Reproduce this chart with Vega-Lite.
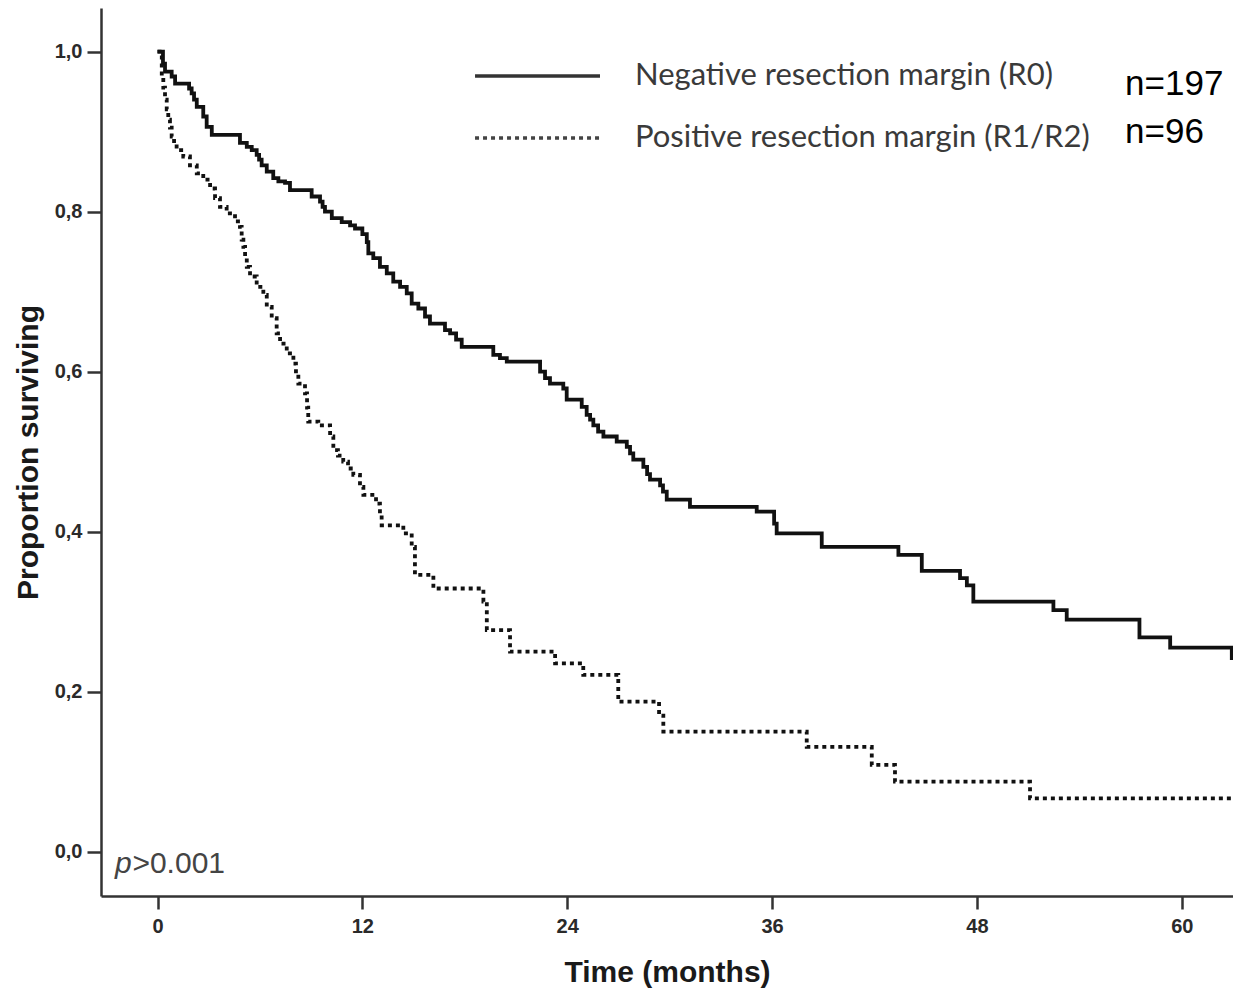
{
  "$schema": "https://vega.github.io/schema/vega-lite/v6.json",
  "width": 1132,
  "height": 888,
  "autosize": {"type": "none"},
  "padding": {"left": 101, "top": 8, "right": 0, "bottom": 97},
  "background": "white",
  "config": {"view": {"stroke": null}, "font": "Liberation Sans"},
  "datasets": {
    "km": [
      {"group": "R0", "month": 0, "surv": 1.0},
      {"group": "R0", "month": 0.32, "surv": 0.985},
      {"group": "R0", "month": 0.44, "surv": 0.975},
      {"group": "R0", "month": 0.83, "surv": 0.969},
      {"group": "R0", "month": 1.03, "surv": 0.96},
      {"group": "R0", "month": 1.85, "surv": 0.954},
      {"group": "R0", "month": 2.0, "surv": 0.948},
      {"group": "R0", "month": 2.14, "surv": 0.94},
      {"group": "R0", "month": 2.3, "surv": 0.931},
      {"group": "R0", "month": 2.68, "surv": 0.919},
      {"group": "R0", "month": 2.88, "surv": 0.906},
      {"group": "R0", "month": 3.18, "surv": 0.896},
      {"group": "R0", "month": 4.83, "surv": 0.886},
      {"group": "R0", "month": 5.23, "surv": 0.881},
      {"group": "R0", "month": 5.52, "surv": 0.877},
      {"group": "R0", "month": 5.81, "surv": 0.871},
      {"group": "R0", "month": 5.95, "surv": 0.865},
      {"group": "R0", "month": 6.1, "surv": 0.858},
      {"group": "R0", "month": 6.4, "surv": 0.85},
      {"group": "R0", "month": 6.78, "surv": 0.842},
      {"group": "R0", "month": 7.08, "surv": 0.838},
      {"group": "R0", "month": 7.47, "surv": 0.836},
      {"group": "R0", "month": 7.76, "surv": 0.827},
      {"group": "R0", "month": 9.03, "surv": 0.819},
      {"group": "R0", "month": 9.52, "surv": 0.8125},
      {"group": "R0", "month": 9.67, "surv": 0.806},
      {"group": "R0", "month": 9.81, "surv": 0.8},
      {"group": "R0", "month": 10.21, "surv": 0.792},
      {"group": "R0", "month": 10.79, "surv": 0.787},
      {"group": "R0", "month": 11.28, "surv": 0.783},
      {"group": "R0", "month": 11.57, "surv": 0.779},
      {"group": "R0", "month": 12.0, "surv": 0.772},
      {"group": "R0", "month": 12.26, "surv": 0.762},
      {"group": "R0", "month": 12.35, "surv": 0.748},
      {"group": "R0", "month": 12.64, "surv": 0.742},
      {"group": "R0", "month": 13.03, "surv": 0.731},
      {"group": "R0", "month": 13.43, "surv": 0.723},
      {"group": "R0", "month": 13.81, "surv": 0.7125},
      {"group": "R0", "month": 14.21, "surv": 0.706},
      {"group": "R0", "month": 14.6, "surv": 0.698},
      {"group": "R0", "month": 14.89, "surv": 0.685},
      {"group": "R0", "month": 15.28, "surv": 0.679},
      {"group": "R0", "month": 15.67, "surv": 0.669},
      {"group": "R0", "month": 15.96, "surv": 0.66},
      {"group": "R0", "month": 16.84, "surv": 0.652},
      {"group": "R0", "month": 17.14, "surv": 0.648},
      {"group": "R0", "month": 17.49, "surv": 0.64},
      {"group": "R0", "month": 17.82, "surv": 0.631},
      {"group": "R0", "month": 19.67, "surv": 0.621},
      {"group": "R0", "month": 20.06, "surv": 0.617},
      {"group": "R0", "month": 20.46, "surv": 0.6125},
      {"group": "R0", "month": 22.41, "surv": 0.6},
      {"group": "R0", "month": 22.7, "surv": 0.592},
      {"group": "R0", "month": 22.99, "surv": 0.585},
      {"group": "R0", "month": 23.77, "surv": 0.579},
      {"group": "R0", "month": 23.97, "surv": 0.565},
      {"group": "R0", "month": 24.85, "surv": 0.556},
      {"group": "R0", "month": 25.14, "surv": 0.546},
      {"group": "R0", "month": 25.34, "surv": 0.54},
      {"group": "R0", "month": 25.53, "surv": 0.533},
      {"group": "R0", "month": 25.81, "surv": 0.525},
      {"group": "R0", "month": 26.12, "surv": 0.519},
      {"group": "R0", "month": 26.9, "surv": 0.5125},
      {"group": "R0", "month": 27.49, "surv": 0.506},
      {"group": "R0", "month": 27.68, "surv": 0.498},
      {"group": "R0", "month": 27.87, "surv": 0.49},
      {"group": "R0", "month": 28.46, "surv": 0.481},
      {"group": "R0", "month": 28.68, "surv": 0.472},
      {"group": "R0", "month": 28.85, "surv": 0.465},
      {"group": "R0", "month": 29.44, "surv": 0.458},
      {"group": "R0", "month": 29.61, "surv": 0.45},
      {"group": "R0", "month": 29.83, "surv": 0.44},
      {"group": "R0", "month": 31.19, "surv": 0.431},
      {"group": "R0", "month": 35.1, "surv": 0.425},
      {"group": "R0", "month": 36.12, "surv": 0.41},
      {"group": "R0", "month": 36.27, "surv": 0.398},
      {"group": "R0", "month": 38.91, "surv": 0.381},
      {"group": "R0", "month": 43.4, "surv": 0.371},
      {"group": "R0", "month": 44.77, "surv": 0.351},
      {"group": "R0", "month": 47.01, "surv": 0.342},
      {"group": "R0", "month": 47.41, "surv": 0.333},
      {"group": "R0", "month": 47.79, "surv": 0.3125},
      {"group": "R0", "month": 52.48, "surv": 0.302},
      {"group": "R0", "month": 53.26, "surv": 0.29},
      {"group": "R0", "month": 57.52, "surv": 0.268},
      {"group": "R0", "month": 59.32, "surv": 0.255},
      {"group": "R0", "month": 62.93, "surv": 0.242},
      {"group": "R0", "month": 63.5, "surv": 0.242},
      {"group": "R1/R2", "month": 0, "surv": 1.0},
      {"group": "R1/R2", "month": 0.25, "surv": 0.969},
      {"group": "R1/R2", "month": 0.34, "surv": 0.955},
      {"group": "R1/R2", "month": 0.44, "surv": 0.94},
      {"group": "R1/R2", "month": 0.54, "surv": 0.928},
      {"group": "R1/R2", "month": 0.63, "surv": 0.915},
      {"group": "R1/R2", "month": 0.73, "surv": 0.905},
      {"group": "R1/R2", "month": 0.83, "surv": 0.894},
      {"group": "R1/R2", "month": 0.97, "surv": 0.885},
      {"group": "R1/R2", "month": 1.12, "surv": 0.877},
      {"group": "R1/R2", "month": 1.51, "surv": 0.869},
      {"group": "R1/R2", "month": 1.9, "surv": 0.858},
      {"group": "R1/R2", "month": 2.3, "surv": 0.848},
      {"group": "R1/R2", "month": 2.68, "surv": 0.84},
      {"group": "R1/R2", "month": 3.08, "surv": 0.829},
      {"group": "R1/R2", "month": 3.37, "surv": 0.817},
      {"group": "R1/R2", "month": 3.66, "surv": 0.806},
      {"group": "R1/R2", "month": 4.05, "surv": 0.798},
      {"group": "R1/R2", "month": 4.54, "surv": 0.788},
      {"group": "R1/R2", "month": 4.83, "surv": 0.781},
      {"group": "R1/R2", "month": 4.93, "surv": 0.765},
      {"group": "R1/R2", "month": 5.03, "surv": 0.756},
      {"group": "R1/R2", "month": 5.13, "surv": 0.743},
      {"group": "R1/R2", "month": 5.23, "surv": 0.731},
      {"group": "R1/R2", "month": 5.42, "surv": 0.719},
      {"group": "R1/R2", "month": 5.81, "surv": 0.706},
      {"group": "R1/R2", "month": 6.2, "surv": 0.696},
      {"group": "R1/R2", "month": 6.4, "surv": 0.681},
      {"group": "R1/R2", "month": 6.69, "surv": 0.667},
      {"group": "R1/R2", "month": 6.98, "surv": 0.648},
      {"group": "R1/R2", "month": 7.18, "surv": 0.635},
      {"group": "R1/R2", "month": 7.57, "surv": 0.623},
      {"group": "R1/R2", "month": 7.96, "surv": 0.61},
      {"group": "R1/R2", "month": 8.11, "surv": 0.597},
      {"group": "R1/R2", "month": 8.25, "surv": 0.585},
      {"group": "R1/R2", "month": 8.64, "surv": 0.573},
      {"group": "R1/R2", "month": 8.76, "surv": 0.555},
      {"group": "R1/R2", "month": 8.83, "surv": 0.5375},
      {"group": "R1/R2", "month": 9.42, "surv": 0.533},
      {"group": "R1/R2", "month": 10.11, "surv": 0.519},
      {"group": "R1/R2", "month": 10.3, "surv": 0.502},
      {"group": "R1/R2", "month": 10.57, "surv": 0.495},
      {"group": "R1/R2", "month": 10.88, "surv": 0.4875},
      {"group": "R1/R2", "month": 11.16, "surv": 0.479},
      {"group": "R1/R2", "month": 11.47, "surv": 0.471},
      {"group": "R1/R2", "month": 11.86, "surv": 0.456},
      {"group": "R1/R2", "month": 12.06, "surv": 0.446},
      {"group": "R1/R2", "month": 12.8, "surv": 0.435},
      {"group": "R1/R2", "month": 13.03, "surv": 0.423},
      {"group": "R1/R2", "month": 13.13, "surv": 0.408},
      {"group": "R1/R2", "month": 14.4, "surv": 0.398},
      {"group": "R1/R2", "month": 14.89, "surv": 0.381},
      {"group": "R1/R2", "month": 15.08, "surv": 0.346},
      {"group": "R1/R2", "month": 16.16, "surv": 0.329},
      {"group": "R1/R2", "month": 19.09, "surv": 0.3125},
      {"group": "R1/R2", "month": 19.29, "surv": 0.277},
      {"group": "R1/R2", "month": 20.65, "surv": 0.25},
      {"group": "R1/R2", "month": 23.29, "surv": 0.2355},
      {"group": "R1/R2", "month": 24.94, "surv": 0.221},
      {"group": "R1/R2", "month": 26.99, "surv": 0.1875},
      {"group": "R1/R2", "month": 29.38, "surv": 0.17},
      {"group": "R1/R2", "month": 29.63, "surv": 0.15},
      {"group": "R1/R2", "month": 38.03, "surv": 0.131},
      {"group": "R1/R2", "month": 41.84, "surv": 0.1085},
      {"group": "R1/R2", "month": 43.2, "surv": 0.0875},
      {"group": "R1/R2", "month": 51.11, "surv": 0.0667},
      {"group": "R1/R2", "month": 63.5, "surv": 0.0667}
    ]
  },
  "layer": [
    {
      "data": {"name": "km"},
      "mark": {"type": "line", "interpolate": "step-after", "clip": true, "strokeWidth": 3.8, "color": "#111111", "strokeCap": "butt"},
      "encoding": {
        "x": {
          "field": "month", "type": "quantitative",
          "scale": {"domain": [-3.31, 63.0], "nice": false, "zero": false},
          "axis": {
            "values": [0, 12, 24, 36, 48, 60],
            "grid": false,
            "domainColor": "#333333", "domainWidth": 2.5,
            "tickColor": "#333333", "tickWidth": 2.5, "tickSize": 13,
            "labelFont": "Liberation Sans", "labelFontSize": 20, "labelFontWeight": "bold", "labelColor": "#2a2a2a", "labelPadding": 7,
            "title": "Time (months)", "titleFont": "Liberation Sans", "titleFontSize": 30, "titleFontWeight": "bold", "titleColor": "#1a1a1a", "titlePadding": 21
          }
        },
        "y": {
          "field": "surv", "type": "quantitative",
          "scale": {"domain": [-0.0554, 1.0546], "nice": false, "zero": false},
          "axis": {
            "values": [0, 0.2, 0.4, 0.6, 0.8, 1.0],
            "labelExpr": "replace(format(datum.value, '.1f'), '.', ',')",
            "grid": false,
            "domainColor": "#333333", "domainWidth": 2.5,
            "tickColor": "#333333", "tickWidth": 2.5, "tickSize": 14,
            "labelFont": "Liberation Sans", "labelFontSize": 20, "labelFontWeight": "bold", "labelColor": "#2a2a2a", "labelPadding": 5,
            "title": "Proportion surviving", "titleFont": "Liberation Sans", "titleFontSize": 30, "titleFontWeight": "bold", "titleColor": "#1a1a1a", "titlePadding": 11
          }
        },
        "detail": {"field": "group", "type": "nominal"},
        "strokeDash": {"field": "group", "type": "nominal", "scale": {"domain": ["R0", "R1/R2"], "range": [[1, 0], [4, 4]]}, "legend": null}
      }
    },
    {
      "data": {"values": [{"label": "solid"}]},
      "mark": {"type": "rule", "strokeWidth": 3.5, "color": "#333333"},
      "encoding": {"x": {"datum": 18.6}, "x2": {"datum": 25.92}, "y": {"datum": 0.9696}}
    },
    {
      "data": {"values": [{"label": "dotted"}]},
      "mark": {"type": "rule", "strokeWidth": 3.5, "color": "#444444", "strokeDash": [4, 4]},
      "encoding": {"x": {"datum": 18.6}, "x2": {"datum": 25.92}, "y": {"datum": 0.8921}}
    },
    {
      "data": {"values": [{"label": "Negative resection margin (R0)"}]},
      "mark": {"type": "text", "font": "Lato", "fontSize": 31, "color": "#3a3a3a", "align": "left", "baseline": "alphabetic"},
      "encoding": {"x": {"datum": 27.97}, "y": {"datum": 0.958}, "text": {"field": "label"}}
    },
    {
      "data": {"values": [{"label": "Positive resection margin (R1/R2)"}]},
      "mark": {"type": "text", "font": "Lato", "fontSize": 31, "color": "#3a3a3a", "align": "left", "baseline": "alphabetic"},
      "encoding": {"x": {"datum": 27.97}, "y": {"datum": 0.881}, "text": {"field": "label"}}
    },
    {
      "data": {"values": [{"label": "n=197"}]},
      "mark": {"type": "text", "font": "Liberation Sans", "fontSize": 35, "color": "#000000", "align": "left", "baseline": "alphabetic"},
      "encoding": {"x": {"datum": 56.68}, "y": {"datum": 0.9459}, "text": {"field": "label"}}
    },
    {
      "data": {"values": [{"label": "n=96"}]},
      "mark": {"type": "text", "font": "Liberation Sans", "fontSize": 35, "color": "#000000", "align": "left", "baseline": "alphabetic"},
      "encoding": {"x": {"datum": 56.68}, "y": {"datum": 0.8855}, "text": {"field": "label"}}
    },
    {
      "data": {"values": [{"label": "p"}]},
      "mark": {"type": "text", "font": "Liberation Sans", "fontSize": 30, "fontStyle": "italic", "color": "#444444", "align": "left", "baseline": "alphabetic"},
      "encoding": {"x": {"datum": -2.49}, "y": {"datum": -0.0266}, "text": {"field": "label"}}
    },
    {
      "data": {"values": [{"label": ">0.001"}]},
      "mark": {"type": "text", "font": "Liberation Sans", "fontSize": 30, "color": "#444444", "align": "left", "baseline": "alphabetic"},
      "encoding": {"x": {"datum": -1.47}, "y": {"datum": -0.0266}, "text": {"field": "label"}}
    }
  ]
}
